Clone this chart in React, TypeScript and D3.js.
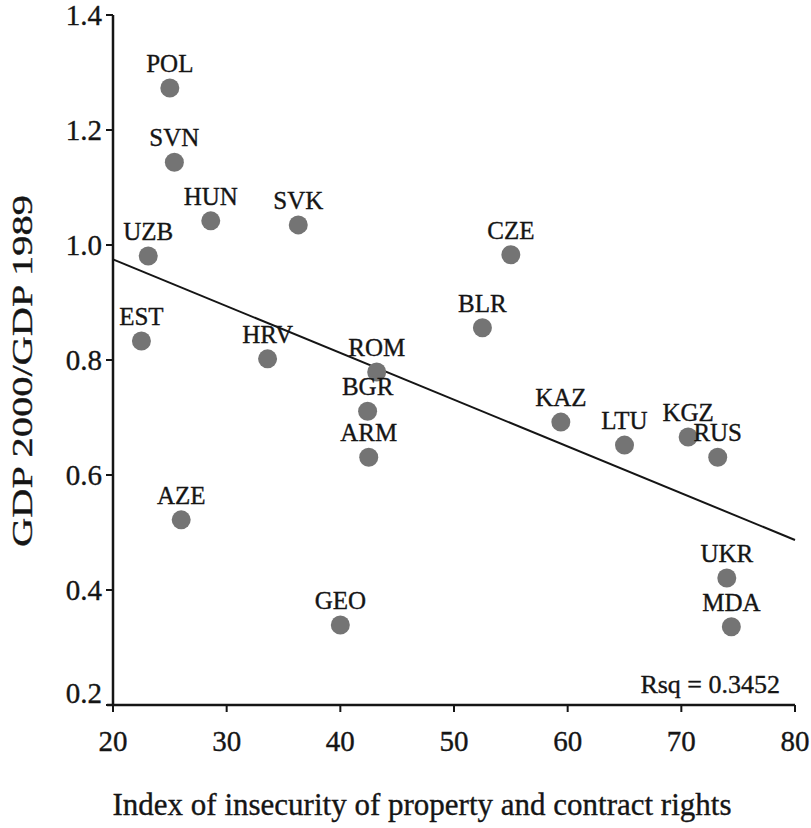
import React from 'react';
import * as d3 from 'd3';

const countries = ['POL', 'SVN', 'HUN', 'SVK', 'UZB', 'CZE', 'EST', 'BLR', 'HRV', 'ROM', 'BGR', 'ARM', 'KAZ', 'LTU', 'KGZ', 'RUS', 'AZE', 'UKR', 'GEO', 'MDA'];
const insecurity = [25.0, 25.4, 28.6, 36.3, 23.1, 55.0, 22.5, 52.5, 33.6, 43.2, 42.4, 42.5, 59.4, 65.0, 70.6, 73.2, 26.0, 74.0, 40.0, 74.4];
const gdpRatio = [1.273, 1.144, 1.042, 1.035, 0.981, 0.983, 0.833, 0.856, 0.802, 0.779, 0.711, 0.631, 0.692, 0.652, 0.666, 0.631, 0.522, 0.421, 0.339, 0.336];

const xTicks = [20, 30, 40, 50, 60, 70, 80];
const yTicks = [0.2, 0.4, 0.6, 0.8, 1.0, 1.2, 1.4];
const rsqLabel = 'Rsq = 0.3452';

const width = 811,
  height = 828;

const font = '"Liberation Serif", "Times New Roman", serif';

export default function App() {
  const x = d3.scaleLinear().domain([20, 80]).range([113, 795]);
  const y = d3.scaleLinear().domain([0.2, 1.4]).range([705, 15]);

  // least squares fit line
  const mx = d3.mean(insecurity) as number;
  const my = d3.mean(gdpRatio) as number;
  let sxy = 0, sxx = 0;
  insecurity.forEach((v, i) => {
    sxy += (v - mx) * (gdpRatio[i] - my);
    sxx += (v - mx) * (v - mx);
  });
  const slope = sxy / sxx;
  const icpt = my - slope * mx;
  const fit = d3.line<number>()
    .x(d => x(d))
    .y(d => y(icpt + slope * d));

  const ink = '#151515';

  return (
    <svg width={width} height={height} style={{ position: 'absolute', left: 0, top: 0, background: '#fff' }}>
      <g fontFamily={font} fill={ink} stroke={ink} strokeWidth={0.35}>
        {/* axes */}
        <line x1={x(20)} x2={x(20)} y1={y(1.4)} y2={y(0.2)} strokeWidth={2.5} />
        <line x1={x(20) - 6} x2={x(80)} y1={y(0.2)} y2={y(0.2)} strokeWidth={2.5} />
        {yTicks.map(t => (
          <g key={'y' + t}>
            <line x1={x(20) - 7} x2={x(20)} y1={y(t)} y2={y(t)} strokeWidth={2} />
            <text x={x(20) - 11} y={y(t) + (t === 0.2 ? -2 : 10)} textAnchor="end" fontSize={29}>{d3.format('.1f')(t)}</text>
          </g>
        ))}
        {xTicks.map(t => (
          <g key={'x' + t}>
            <line x1={x(t)} x2={x(t)} y1={y(0.2)} y2={y(0.2) + 7} strokeWidth={2} />
            <text x={x(t)} y={y(0.2) + 46} textAnchor="middle" fontSize={29}>{t}</text>
          </g>
        ))}

        {/* fit line */}
        <path d={fit([20, 80]) as string} strokeWidth={2} fill="none" />

        {/* points */}
        {countries.map((c, i) => (
          <g key={c}>
            <circle cx={x(insecurity[i])} cy={y(gdpRatio[i])} r={9.5} fill="#747474" stroke="none" />
            <text x={x(insecurity[i])} y={y(gdpRatio[i]) - 16} textAnchor="middle" fontSize={25}>{c}</text>
          </g>
        ))}

        <text x={780} y={693} textAnchor="end" fontSize={26}>{rsqLabel}</text>

        <text x={422} y={815} textAnchor="middle" fontSize={31}>
          Index of insecurity of property and contract rights
        </text>
        <text transform="translate(32,371) rotate(-90)" textAnchor="middle" fontSize={29}
          textLength={352} lengthAdjust="spacingAndGlyphs">
          GDP 2000/GDP 1989
        </text>
      </g>
    </svg>
  );
}
